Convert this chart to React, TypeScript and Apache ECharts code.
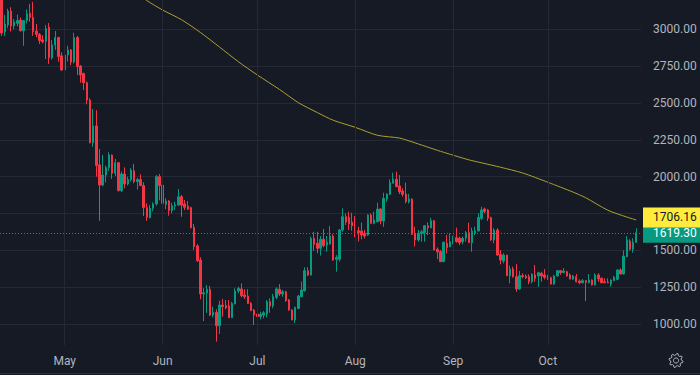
import React, { useEffect, useRef } from 'react';
import * as echarts from 'echarts';

// ---- data (daily ETH-like candles) ----
const startDate = '2022-04-11';
const dayCount = 203; // Apr 11 .. Oct 31 (last two days empty)

const opens = [
  3205, 2982, 3029, 3124, 3022, 3040, 3063, 2990, 3060, 3109,
  3082, 2988, 2965, 2929, 2918, 3015, 2807, 2893, 2944, 2820,
  2724, 2826, 2860, 2778, 2944, 2751, 2700, 2638, 2520, 2230,
  2344, 2080, 1943, 2011, 2062, 2147, 2023, 2095, 1905, 2018,
  1950, 1980, 2040, 1966, 1980, 1940, 1790, 1721, 1785, 1815,
  2000, 1943, 1812, 1835, 1770, 1800, 1807, 1864, 1815, 1800,
  1790, 1656, 1530, 1434, 1204, 1210, 1236, 1061, 1079, 988,
  1129, 1125, 1122, 1043, 1136, 1224, 1238, 1197, 1190, 1140,
  1095, 1068, 1050, 1060, 1068, 1151, 1124, 1181, 1236, 1204,
  1219, 1163, 1095, 1027, 1106, 1185, 1226, 1362, 1332, 1581,
  1548, 1514, 1575, 1536, 1543, 1597, 1439, 1439, 1638, 1728,
  1724, 1692, 1679, 1633, 1631, 1615, 1604, 1740, 1683, 1694,
  1780, 1699, 1848, 1880, 1955, 1982, 1937, 1903, 1882, 1830,
  1848, 1615, 1570, 1615, 1619, 1667, 1653, 1701, 1507, 1491,
  1423, 1548, 1525, 1555, 1586, 1582, 1559, 1582, 1620, 1552,
  1615, 1631, 1717, 1781, 1774, 1722, 1570, 1638, 1472, 1428,
  1468, 1328, 1373, 1321, 1238, 1328, 1325, 1321, 1287, 1333,
  1326, 1344, 1333, 1326, 1314, 1271, 1326, 1362, 1350, 1355,
  1333, 1305, 1321, 1292, 1280, 1294, 1280, 1299, 1265, 1333,
  1310, 1287, 1285, 1271, 1294, 1303, 1367, 1340, 1457, 1563,
  1507, 1554,
];

const closes = [
  2975, 3036, 3124, 3022, 3050, 3060, 2990, 3060, 3105, 3082,
  2984, 2966, 2924, 2915, 3005, 2807, 2893, 2944, 2815, 2724,
  2826, 2860, 2778, 2944, 2747, 2690, 2638, 2520, 2230, 2344,
  2075, 1943, 2011, 2062, 2147, 2023, 2095, 1905, 2018, 1950,
  1980, 2045, 1966, 1980, 1940, 1790, 1724, 1785, 1815, 2000,
  1940, 1819, 1835, 1770, 1803, 1808, 1864, 1807, 1792, 1780,
  1654, 1525, 1430, 1204, 1212, 1236, 1061, 1080, 988, 1129,
  1118, 1110, 1043, 1140, 1224, 1242, 1192, 1185, 1140, 1090,
  1061, 1050, 1066, 1077, 1151, 1122, 1185, 1238, 1204, 1219,
  1158, 1095, 1027, 1113, 1190, 1231, 1362, 1332, 1581, 1541,
  1514, 1575, 1532, 1555, 1597, 1434, 1452, 1638, 1728, 1692,
  1679, 1667, 1626, 1619, 1604, 1597, 1740, 1683, 1706, 1780,
  1699, 1852, 1882, 1959, 1982, 1932, 1898, 1880, 1830, 1848,
  1609, 1570, 1615, 1626, 1667, 1653, 1701, 1502, 1490, 1423,
  1555, 1518, 1559, 1586, 1559, 1552, 1582, 1620, 1552, 1631,
  1631, 1722, 1774, 1762, 1717, 1570, 1638, 1468, 1434, 1468,
  1328, 1373, 1321, 1238, 1328, 1321, 1314, 1287, 1337, 1310,
  1348, 1326, 1317, 1303, 1271, 1326, 1362, 1348, 1360, 1326,
  1305, 1326, 1287, 1280, 1294, 1283, 1299, 1265, 1333, 1306,
  1280, 1280, 1280, 1299, 1317, 1367, 1340, 1461, 1570, 1507,
  1554, 1619.3,
];

const lows = [
  2955, 2955, 3010, 2985, 3000, 3020, 2985, 2888, 3040, 3052,
  2955, 2947, 2900, 2905, 2798, 2765, 2795, 2860, 2780, 2717,
  2717, 2781, 2758, 2769, 2690, 2638, 2588, 2491, 2226, 2203,
  2000, 1701, 1935, 1960, 2040, 1985, 2005, 1900, 1895, 1921,
  1940, 1968, 1955, 1912, 1935, 1733, 1700, 1717, 1765, 1803,
  1840, 1762, 1780, 1735, 1752, 1774, 1801, 1728, 1774, 1774,
  1649, 1502, 1421, 1168, 1020, 1075, 1054, 1045, 880, 932,
  1050, 1100, 1040, 1040, 1134, 1208, 1181, 1170, 1136, 1088,
  993, 1032, 1032, 1039, 1045, 1077, 1107, 1168, 1190, 1185,
  1151, 1090, 1027, 1006, 1100, 1185, 1219, 1325, 1330, 1497,
  1480, 1465, 1521, 1491, 1540, 1430, 1355, 1423, 1626, 1672,
  1638, 1633, 1589, 1559, 1575, 1581, 1599, 1680, 1677, 1690,
  1677, 1660, 1830, 1875, 1955, 1930, 1882, 1864, 1819, 1819,
  1604, 1525, 1559, 1559, 1559, 1604, 1650, 1502, 1440, 1420,
  1420, 1480, 1520, 1541, 1552, 1536, 1541, 1559, 1550, 1491,
  1604, 1631, 1706, 1751, 1699, 1565, 1548, 1464, 1405, 1412,
  1325, 1276, 1314, 1219, 1231, 1310, 1305, 1270, 1276, 1287,
  1253, 1287, 1303, 1299, 1268, 1265, 1321, 1333, 1344, 1321,
  1303, 1299, 1283, 1270, 1276, 1156, 1276, 1262, 1262, 1287,
  1276, 1276, 1276, 1253, 1290, 1299, 1335, 1335, 1453, 1497,
  1484, 1552,
];

const highs = [
  3215, 3097, 3140, 3150, 3070, 3100, 3080, 3060, 3135, 3172,
  3186, 3036, 2975, 2960, 3029, 3043, 2927, 2988, 2950, 2844,
  2860, 2889, 2866, 2977, 2955, 2758, 2706, 2645, 2532, 2459,
  2452, 2188, 2147, 2075, 2165, 2150, 2120, 2100, 2035, 2063,
  2000, 2058, 2086, 1992, 2016, 1962, 1819, 1808, 1826, 2011,
  2018, 1973, 1853, 1842, 1823, 1830, 1916, 1876, 1842, 1835,
  1796, 1679, 1543, 1453, 1244, 1265, 1258, 1117, 1100, 1158,
  1170, 1163, 1163, 1150, 1242, 1253, 1276, 1236, 1236, 1149,
  1102, 1117, 1083, 1088, 1163, 1174, 1204, 1249, 1271, 1231,
  1225, 1170, 1100, 1117, 1197, 1287, 1385, 1385, 1593, 1626,
  1626, 1597, 1645, 1597, 1665, 1610, 1468, 1645, 1785, 1751,
  1762, 1755, 1733, 1660, 1688, 1638, 1745, 1751, 1762, 1823,
  1785, 1891, 1887, 1982, 2027, 2034, 2011, 1921, 1959, 1882,
  1852, 1660, 1638, 1638, 1672, 1690, 1721, 1706, 1520, 1502,
  1560, 1604, 1615, 1599, 1654, 1593, 1593, 1631, 1688, 1654,
  1660, 1751, 1796, 1790, 1781, 1728, 1650, 1650, 1502, 1480,
  1470, 1396, 1389, 1408, 1360, 1344, 1337, 1337, 1344, 1400,
  1355, 1355, 1373, 1333, 1321, 1333, 1367, 1367, 1380, 1362,
  1344, 1333, 1339, 1303, 1305, 1299, 1339, 1303, 1344, 1344,
  1317, 1310, 1310, 1303, 1326, 1371, 1378, 1500, 1597, 1575,
  1582, 1650,
];

// moving average line, read at a set of days (index from startDate)
const maDayIndex = [44, 46, 51, 57, 63, 69, 75, 81, 88, 94, 100, 105, 112, 119, 126, 130, 139, 148, 152, 158, 165, 173, 181, 185, 192, 198, 201];
const maValues = [3230, 3195, 3131, 3065, 2978, 2880, 2780, 2690, 2592, 2502, 2435, 2383, 2335, 2281, 2262, 2236, 2172, 2114, 2094, 2064, 2025, 1962, 1895, 1857, 1772, 1726, 1706.16];

const lastClose = 1619.3;
const lastMa = 1706.16;
const hiddenTick = 1750;
const monthNames = ['Jan', 'Feb', 'Mar', 'Apr', 'May', 'Jun', 'Jul', 'Aug', 'Sep', 'Oct', 'Nov', 'Dec'];

const UP = '#089981';
const DOWN = '#f23645';
const BG = '#161a25';
const GRID = '#252935';
const TEXT = '#b2b5be';
const FONT = 'Roboto, "Noto Sans", sans-serif';

function buildDates(): string[] {
  const out: string[] = [];
  const t0 = Date.UTC(+startDate.slice(0, 4), +startDate.slice(5, 7) - 1, +startDate.slice(8, 10));
  for (let i = 0; i < dayCount; i++) {
    const d = new Date(t0 + i * 86400000);
    const m = String(d.getUTCMonth() + 1).padStart(2, '0');
    const dd = String(d.getUTCDate()).padStart(2, '0');
    out.push(`${d.getUTCFullYear()}-${m}-${dd}`);
  }
  return out;
}

function gearPoints(cx: number, cy: number): number[][] {
  const pts: number[][] = [];
  const n = 32;
  for (let k = 0; k < n; k++) {
    const a = (k / n) * Math.PI * 2 + Math.PI / 32;
    const r = k % 4 < 2 ? 7 : 5.3;
    pts.push([cx + r * Math.cos(a), cy + r * Math.sin(a)]);
  }
  return pts;
}

export default function App() {
  const ref = useRef<HTMLDivElement>(null);

  useEffect(() => {
    document.body.style.margin = '0';
    if (!ref.current) return;
    const chart = echarts.init(ref.current, undefined, { renderer: 'svg' });
    const dates = buildDates();
    const candles = opens.map((o, i) => [o, closes[i], lows[i], highs[i]]);
    const ma: (number | null)[] = dates.map(() => null);
    maDayIndex.forEach((d, k) => { ma[d] = maValues[k]; });
    const monthStarts = dates.filter((d) => d.endsWith('-01'));

    chart.setOption({
      animation: false,
      backgroundColor: BG,
      grid: { left: 0, right: 59, top: 0, bottom: 30, containLabel: false },
      xAxis: {
        type: 'category',
        data: dates,
        boundaryGap: true,
        axisLine: { show: false },
        axisTick: { show: false },
        splitLine: { show: false },
        axisLabel: {
          interval: (_i: number, v: string) => v.endsWith('-01'),
          formatter: (v: string) => monthNames[+v.slice(5, 7) - 1],
          color: TEXT,
          fontSize: 12,
          fontFamily: FONT,
          margin: 10,
        },
      },
      yAxis: {
        type: 'value',
        position: 'right',
        min: 857.5,
        max: 3199,
        minInterval: 250,
        maxInterval: 250,
        axisLine: { show: false },
        axisTick: { show: false },
        axisLabel: {
          showMinLabel: false,
          showMaxLabel: false,
          formatter: (v: number) => (v === hiddenTick ? '' : v.toFixed(2)),
          color: TEXT,
          fontSize: 12,
          fontFamily: FONT,
          margin: 12,
        },
        splitLine: {
          show: true,
          showMinLine: false,
          showMaxLine: false,
          lineStyle: { color: GRID, width: 1 },
        },
      },
      series: [
        {
          type: 'line',
          data: [],
          z: 1,
          silent: true,
          markLine: {
            silent: true,
            symbol: 'none',
            animation: false,
            label: { show: false },
            lineStyle: { color: GRID, width: 1, type: 'solid' },
            data: monthStarts.map((d) => ({ xAxis: d })),
          },
        },
        {
          type: 'candlestick',
          data: candles,
          z: 2,
          barWidth: '62%',
          clip: true,
          itemStyle: {
            color: UP,
            color0: DOWN,
            borderColor: UP,
            borderColor0: DOWN,
            borderWidth: 1,
          },
          markLine: {
            silent: true,
            symbol: 'none',
            animation: false,
            z: 5,
            lineStyle: { color: UP, width: 1, type: [1, 2] },
            label: {
              show: true,
              position: 'end',
              distance: 2,
              formatter: lastClose.toFixed(2),
              color: '#ffffff',
              backgroundColor: UP,
              fontSize: 12,
              fontFamily: FONT,
              lineHeight: 14,
              padding: [3, 6, 3, 10],
            },
            data: [{ yAxis: lastClose }],
          },
        },
        {
          type: 'line',
          data: ma,
          z: 3,
          connectNulls: true,
          showSymbol: false,
          smooth: 0.25,
          clip: true,
          silent: true,
          lineStyle: { color: '#ada02e', width: 1 },
          markLine: {
            silent: true,
            symbol: 'none',
            animation: false,
            z: 6,
            lineStyle: { color: 'rgba(0,0,0,0)', width: 1 },
            label: {
              show: true,
              position: 'end',
              distance: 2,
              offset: [0, -2.5],
              formatter: lastMa.toFixed(2),
              color: '#131722',
              backgroundColor: '#ffeb3b',
              fontSize: 12,
              fontFamily: FONT,
              lineHeight: 14,
              padding: [3, 6, 3, 10],
            },
            data: [{ yAxis: lastMa }],
          },
        },
      ],
      graphic: [
        {
          type: 'line',
          silent: true,
          shape: { x1: 0, y1: 373.5, x2: 700, y2: 373.5 },
          style: { stroke: '#2a2e39', lineWidth: 1 },
        },
        {
          type: 'polygon',
          silent: true,
          shape: { points: gearPoints(676, 360.5) },
          style: { fill: 'none', stroke: TEXT, lineWidth: 1 },
        },
        {
          type: 'circle',
          silent: true,
          shape: { cx: 676, cy: 360.5, r: 2.6 },
          style: { fill: 'none', stroke: TEXT, lineWidth: 1 },
        },
      ],
    });

    return () => chart.dispose();
  }, []);

  return <div ref={ref} style={{ width: 700, height: 375 }} />;
}
